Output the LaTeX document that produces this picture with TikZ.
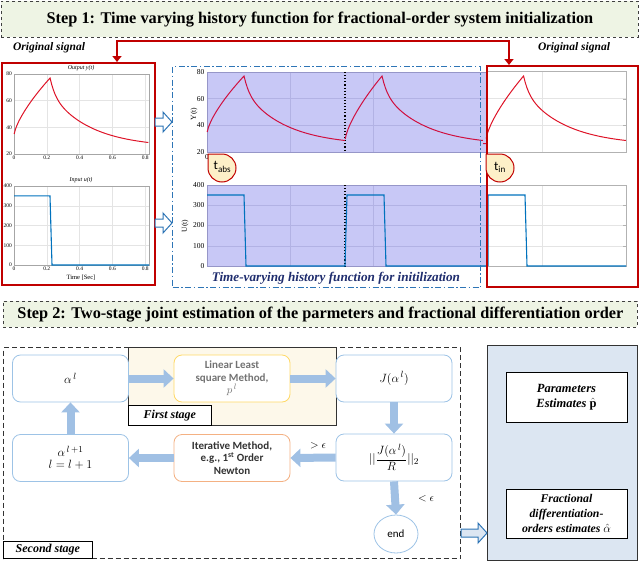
\documentclass[tikz,border=0pt]{standalone}
\usepackage{fontspec}
\setmainfont{Liberation Serif}
\newfontfamily\calfont{Carlito}
\usetikzlibrary{arrows.meta,shapes.geometric,calc}
\definecolor{bannerfill}{RGB}{238,244,228}
\definecolor{dred}{RGB}{192,0,0}
\definecolor{dashblue}{RGB}{46,117,182}
\definecolor{lav}{RGB}{200,200,246}
\definecolor{lavgrid}{RGB}{178,178,228}
\definecolor{lavedge}{RGB}{150,150,200}
\definecolor{curvered}{RGB}{222,20,40}
\definecolor{mcurvered}{RGB}{208,16,64}
\definecolor{inblue}{RGB}{0,114,189}
\definecolor{callfill}{RGB}{253,240,200}
\definecolor{nodeblue}{RGB}{157,195,230}
\definecolor{fatc}{RGB}{160,192,228}
\definecolor{yelbord}{RGB}{255,217,102}
\definecolor{orbord}{RGB}{244,177,131}
\definecolor{fsfill}{RGB}{253,248,234}
\definecolor{resfill}{RGB}{220,230,242}
\definecolor{navy}{RGB}{31,45,110}
\definecolor{gridc}{RGB}{228,228,228}
\newcommand\outcurve[5]{%
  \draw[#5] plot[domain=0.001:0.22,samples=30] ({#1+#2*\x},{#3-(yr(\x,#4)-20)*1.3333})
    -- plot[domain=0.22:0.82,samples=60] ({#1+#2*\x},{#3-(yd(\x)-20)*1.3333});}
\newcommand\hollowarr[4]{% x, y, length, fill
  \draw[dashblue, line width=1, fill=#4] (#1,#2-4) -- (#1+#3-9,#2-4) -- (#1+#3-9,#2-10) -- (#1+#3,#2)
    -- (#1+#3-9,#2+10) -- (#1+#3-9,#2+4) -- (#1,#2+4) -- cycle;}
\begin{document}
\begin{tikzpicture}[x=1pt,y=-1pt,
  declare function={yr(\t,\s)=\s+(77-\s)*(\t/0.22)^0.7; yd(\t)=25+40*exp(-(\t-0.22)/0.25)+12*exp(-(\t-0.22)/0.03);},
  tklab/.style={font=\fontsize{5.5}{6}\selectfont, inner sep=0.5pt},
  mtklab/.style={font=\fontsize{7.5}{8}\selectfont, inner sep=0.5pt},
  banner/.style={draw=black!75, dashed, line width=0.9, fill=bannerfill, anchor=north west, inner sep=0,
    font=\fontsize{16.3}{17}\selectfont\bfseries},
  bigred/.style={draw=dred, line width=1.5, anchor=north west, inner sep=0},
  bnode/.style={draw=nodeblue, line width=0.8, rounded corners=8pt, minimum width=116pt, minimum height=47pt,
    fill=white, align=center, inner sep=2pt},
  fat/.style={draw=fatc, line width=8pt, -{Triangle[width=18pt,length=10pt]}},
  lab/.style={font=\fontsize{12}{13}\selectfont\bfseries\itshape, inner sep=1pt},
  resbox/.style={draw=black, line width=0.8, fill=white, minimum width=121pt, minimum height=50pt, align=center,
    font=\fontsize{12.5}{15}\selectfont\bfseries\itshape}
]
\useasboundingbox (0,0) rectangle (640,562);

% ---------- Step 1 banner ----------
\node[banner, minimum width=637pt, minimum height=36pt] (s1) at (1,1)
  {Step 1: Time varying history function for fractional-order system initialization};
\node[lab, font=\fontsize{11.5}{12}\selectfont\bfseries\itshape] (os1) at (49,48) {Original signal};
\node[lab, font=\fontsize{11.5}{12}\selectfont\bfseries\itshape] (os2) at (574,48) {Original signal};

% ---------- Left original signal plots ----------
\foreach \v [count=\i] in {0,0.2,0.4,0.6,0.8} {
  \pgfmathsetmacro\xx{14+164*\v}
  \draw[gridc, line width=0.4] (\xx,74) -- (\xx,154);
  \node[tklab, anchor=north] (ltx\i) at (\xx,155.5) {\v};
  \draw[gridc, line width=0.4] (\xx,186) -- (\xx,265);
  \node[tklab, anchor=north] (lbx\i) at (\xx,266.5) {\v};
}
\foreach \v [count=\i] in {20,40,60,80} {
  \pgfmathsetmacro\yy{154-(\v-20)*1.3333}
  \draw[gridc, line width=0.4] (14,\yy) -- (149,\yy);
  \node[tklab, anchor=east] (lty\i) at (12.5,\yy) {\v};
}
\foreach \v [count=\i] in {0,100,200,300,400} {
  \pgfmathsetmacro\yy{265-\v*0.1975}
  \draw[gridc, line width=0.4] (14,\yy) -- (149,\yy);
  \node[tklab, anchor=east] (lby\i) at (12.5,\yy) {\v};
}
\draw[gray!70, line width=0.4] (14,74) rectangle (149,154);
\draw[gray!70, line width=0.4] (14,186) rectangle (149,265);
\node[tklab, font=\fontsize{6}{6}\selectfont\itshape] (ttl1) at (81,68) {Output y(t)};
\node[tklab, font=\fontsize{6}{6}\selectfont\itshape] (ttl2) at (81,180) {Input u(t)};
\node[tklab, font=\fontsize{6.5}{7}\selectfont] (tsec) at (81,278) {Time [Sec]};
\outcurve{14}{164}{154}{34}{curvered, line width=1}
\draw[inblue, line width=1.1] (14,195.9) -- (50,195.9) -- (52,265) -- (149,265);
\node[bigred, minimum width=153pt, minimum height=222pt] (lbox) at (1,62) {};

% ---------- Middle history plots ----------
\fill[lav] (207,72) rectangle (486,152);
\fill[lav] (207,185) rectangle (486,266);
\foreach \xx in {290,373} {
  \draw[lavgrid, line width=0.5] (\xx,72) -- (\xx,152);
  \draw[lavgrid, line width=0.5] (\xx,185) -- (\xx,266);
}
\foreach \v [count=\i] in {20,40,60,80} {
  \pgfmathsetmacro\yy{152-(\v-20)*1.3333}
  \draw[lavgrid, line width=0.5] (207,\yy) -- (486,\yy);
  \node[mtklab, anchor=east] (mty\i) at (205,\yy) {\v};
}
\foreach \v [count=\i] in {0,100,200,300,400} {
  \pgfmathsetmacro\yy{266-\v*0.2025}
  \draw[lavgrid, line width=0.5] (207,\yy) -- (486,\yy);
  \node[mtklab, anchor=east] (mby\i) at (205,\yy) {\v};
}
\draw[lavedge, line width=0.6] (207,72) rectangle (486,152);
\draw[lavedge, line width=0.6] (207,185) rectangle (486,266);
\node[mtklab, anchor=north] (mzero) at (207,154) {0};
\node[mtklab, rotate=90] (ylab) at (194,114) {Y(t)};
\node[mtklab, rotate=90] (ulab) at (185,226) {U(t)};
\draw[black, dotted, line width=1.1] (345,72) -- (345,152);
\draw[black, dotted, line width=1.1] (345,185) -- (345,266);
\outcurve{207}{168.3}{152}{34}{mcurvered, line width=1}
\outcurve{345}{168.3}{152}{28.6}{mcurvered, line width=1}
\draw[mcurvered, line width=1] (483,143.5) -- (486,143.7);
\draw[inblue, line width=1.1] (207,195) -- (244,195) -- (246,266) -- (345,266) -- (347,195) -- (384,195)
  -- (386,266) -- (486,266);
\node[font=\fontsize{13.2}{14}\selectfont\bfseries\itshape, text=navy, inner sep=0] (htitle) at (336,278)
  {Time-varying history function for initilization};
\node[draw=dashblue, line width=1.2, dash pattern=on 6pt off 2.5pt on 1.5pt off 2.5pt, anchor=north west,
  inner sep=0, minimum width=308pt, minimum height=221pt] (mbox) at (172,66) {};

% ---------- Right plots ----------
\draw[gridc, line width=0.5] (542,71) -- (542,152);
\draw[gridc, line width=0.5] (487,98.7) -- (626,98.7);
\draw[gridc, line width=0.5] (487,125.3) -- (626,125.3);
\draw[gridc, line width=0.5] (542,185) -- (542,266);
\foreach \yy in {205,225.5,246} { \draw[gridc, line width=0.5] (487,\yy) -- (626,\yy); }
\draw[gray!60, line width=0.5] (487,71) rectangle (626,152);
\draw[gray!60, line width=0.5] (487,185) rectangle (626,266);
\foreach \yy in {98.7,125.3} { \draw[gray!60, line width=0.4] (623,\yy) -- (626,\yy); }
\foreach \yy in {205,225.5,246} { \draw[gray!60, line width=0.4] (623,\yy) -- (626,\yy); }
\outcurve{486}{170.7}{152}{29}{curvered, line width=1}
\draw[inblue, line width=1.1] (488,266) -- (488,195) -- (525,195) -- (527,266) -- (626,266);
\node[bigred, minimum width=151pt, minimum height=221pt] (rbox) at (486,65) {};

% ---------- callouts ----------
\draw[dred, line width=1, fill=callfill] (208,154) -- (222,154) arc[start angle=90, end angle=-180, radius=14pt] -- cycle;
\node[font=\calfont\fontsize{13}{13}\selectfont, inner sep=0] (tabs) at (222.5,167) {t\textsubscript{abs}};
\draw[dred, line width=1, fill=callfill] (486,154) -- (500,154) arc[start angle=90, end angle=-180, radius=14pt] -- cycle;
\node[font=\calfont\fontsize{13}{13}\selectfont, inner sep=0] (tin) at (500,167) {t\textsubscript{in}};

% ---------- connectors step 1 ----------
\draw[dred, line width=2.5, {Triangle[width=9pt,length=6pt]}-{Triangle[width=9pt,length=6pt]}]
  ([xshift=116pt]lbox.north west) -- ++(0,-21) -| ([xshift=23pt]rbox.north west);
\hollowarr{155}{122}{17}{white}
\hollowarr{155}{223}{17}{white}

% ---------- Step 2 banner ----------
\node[banner, minimum width=634pt, minimum height=26pt] (s2) at (3,301)
  {Step 2: Two-stage joint estimation of the parmeters and fractional differentiation order};

% ---------- Second stage / first stage ----------
\node[draw=black!80, line width=1.2, dash pattern=on 5pt off 3pt, anchor=north west, inner sep=0,
  minimum width=457pt, minimum height=211pt] (sstage) at (3,347) {};
\node[draw=black!80, line width=1, fill=fsfill, anchor=north west, inner sep=0,
  minimum width=208pt, minimum height=78pt] (fstage) at (128,347) {};
\node[draw=black, line width=0.8, fill=white, anchor=north west, minimum width=83pt, minimum height=20pt,
  inner sep=0, lab] (fslab) at (128,405) {First stage};
\node[draw=black, line width=0.8, fill=white, anchor=north west, minimum width=89pt, minimum height=17pt,
  inner sep=0, lab] (sslab) at (3,541) {Second stage};

\node[bnode, font=\fontsize{12.5}{13}\selectfont] (al) at (70.5,378.5) {$\alpha^{\,l}$};
\node[bnode, draw=yelbord, text=black!55, font=\calfont\fontsize{11}{12.5}\selectfont\bfseries] (lls) at (232,378.5)
  {Linear Least\\square Method,\\$p^{\,l}$};
\node[bnode, font=\fontsize{12.5}{13}\selectfont] (jn) at (394,378.5) {$J(\alpha^{\,l})$};
\node[bnode, font=\fontsize{12.5}{13}\selectfont] (norm) at (394,457.5) {$\displaystyle ||\frac{J(\alpha^{\,l})}{R}||_2$};
\node[bnode, draw=orbord, text=black!80, font=\calfont\fontsize{11}{12.5}\selectfont\bfseries] (iter) at (232,458)
  {Iterative Method,\\e.g., 1\textsuperscript{st} Order\\Newton};
\node[bnode, font=\fontsize{12.5}{13}\selectfont] (al1) at (70.5,458) {$\alpha^{\,l\,+1}$\\[-1pt]$l = l+1$};
\node[ellipse, draw=nodeblue, line width=0.8, fill=white, minimum width=44pt, minimum height=38pt, inner sep=0,
  font=\calfont\fontsize{11}{12}\selectfont] (endn) at (396,534) {end};

\draw[fat] (al.east) -- (lls.west);
\draw[fat] (lls.east) -- (jn.west);
\draw[fat] (jn.south) -- (norm.north);
\draw[fat] (norm.west) -- (iter.east);
\draw[fat] (iter.west) -- (al1.east);
\draw[fat] (al1.north) -- (al.south);
\draw[fat] (norm.south) -- (endn.north);
\node[font=\fontsize{11}{12}\selectfont] (gt) at (318,446) {$>\epsilon$};
\node[font=\fontsize{11}{12}\selectfont] (lt) at (426,499) {$<\epsilon$};

% ---------- results ----------
\node[draw=black!80, line width=1, fill=resfill, anchor=north west, inner sep=0,
  minimum width=150pt, minimum height=215pt] (res) at (487,345) {};
\node[resbox] (pest) at (566.5,397) {Parameters\\Estimates $\hat{\mathbf{p}}$};
\node[resbox, minimum height=49pt, font=\fontsize{11.8}{15}\selectfont\bfseries\itshape] (aest) at (566.5,513.5)
  {Fractional\\differentiation-\\orders estimates $\hat{\alpha}$};
\hollowarr{461}{533}{26}{resfill}
\end{tikzpicture}
\end{document}
